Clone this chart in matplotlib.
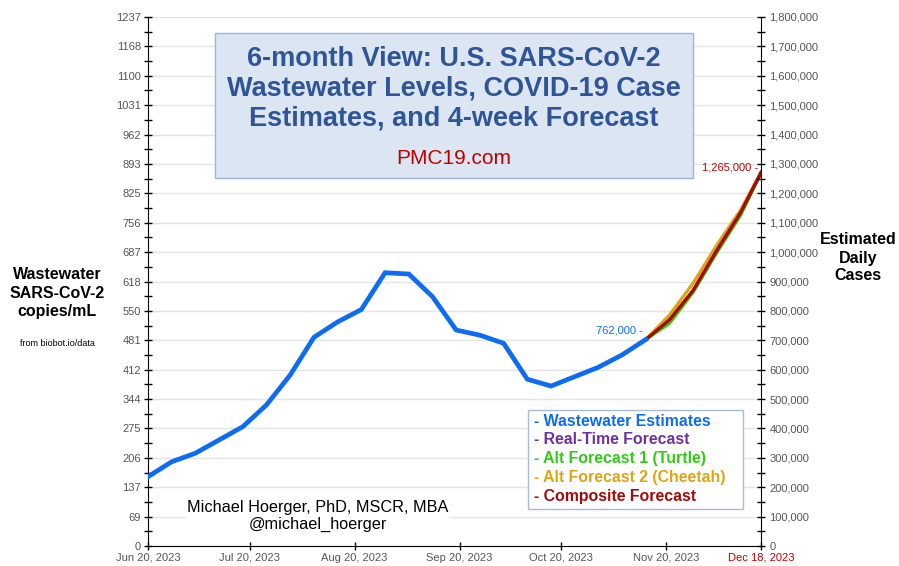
import matplotlib
matplotlib.use('Agg')
import matplotlib.pyplot as plt
import matplotlib.dates as mdates
import matplotlib.ticker as mticker
from matplotlib.patches import Rectangle
import numpy as np
import datetime

plt.rcParams['font.family'] = ['Liberation Sans', 'DejaVu Sans']

# wastewater, weekly readings (copies/mL)
ww_dates = ['2023-06-20', '2023-06-27', '2023-07-04', '2023-07-11', '2023-07-18',
            '2023-07-25', '2023-08-01', '2023-08-08', '2023-08-15', '2023-08-22',
            '2023-08-29', '2023-09-05', '2023-09-12', '2023-09-19', '2023-09-26',
            '2023-10-03', '2023-10-10', '2023-10-17', '2023-10-24', '2023-10-31',
            '2023-11-07', '2023-11-14']
ww_values = [162, 197, 217, 248, 279, 330, 400, 488, 524, 553, 639, 636,
             583, 505, 493, 474, 390, 374, 396, 418, 447, 483]

# 4-week forecasts
fc_dates = ['2023-11-14', '2023-11-21', '2023-11-28', '2023-12-05', '2023-12-12', '2023-12-18']
fc_realtime = [483, 528, 597, 690, 778, 873]
fc_turtle = [483, 521, 594, 687, 774, 873]
fc_cheetah = [483, 540, 615, 704, 786, 873]
fc_composite = [483, 529, 598, 692, 780, 873]

left_max = 1237
right_max = 1800000
xtick_dates = ['2023-06-20', '2023-07-20', '2023-08-20', '2023-09-20', '2023-10-20', '2023-11-20']
xtick_labels = ['Jun 20, 2023', 'Jul 20, 2023', 'Aug 20, 2023', 'Sep 20, 2023',
                'Oct 20, 2023', 'Nov 20, 2023']
end_date = '2023-12-18'

C_BLUE = '#0d6cf2'
C_PURPLE = '#7030a0'
C_GREEN = '#2ecc12'
C_GOLD = '#dba514'
C_RED = '#a50a0a'
C_TICK = '#555555'


def d(s):
    return datetime.datetime.strptime(s, '%Y-%m-%d')


fig = plt.figure(figsize=(8.99, 5.66), dpi=100)
ax = fig.add_axes([148 / 899, 20 / 566, 613 / 899, 529 / 566])

wx = [d(s) for s in ww_dates]
fx = [d(s) for s in fc_dates]

ax.plot(fx, fc_realtime, color=C_PURPLE, lw=2.4, zorder=3)
ax.plot(fx, fc_turtle, color=C_GREEN, lw=2.4, zorder=3)
ax.plot(fx, fc_cheetah, color=C_GOLD, lw=2.4, zorder=3)
ax.plot(fx, fc_composite, color=C_RED, lw=2.4, zorder=4)
ax.plot(wx, ww_values, color=C_BLUE, lw=3.4, solid_joinstyle='miter', zorder=5)

ax.set_xlim(d('2023-06-20'), d(end_date))
ax.set_ylim(0, left_max)

# left axis ticks
lt = np.arange(19) * left_max / 18.0
ax.set_yticks(lt)
ax.set_yticklabels(['%d' % round(v) for v in lt])
ax.set_yticks(np.arange(18) * left_max / 18.0 + left_max / 36.0, minor=True)
ax.yaxis.grid(True, color='#e4e4e4', lw=1)
ax.set_axisbelow(True)

xt = [d(s) for s in xtick_dates] + [d(end_date)]
ax.set_xticks(xt)
ax.set_xticklabels(xtick_labels + ['Dec 18, 2023'])
ax.tick_params(axis='both', which='both', direction='inout', length=6, width=1,
               labelsize=8, labelcolor=C_TICK)
ax.tick_params(axis='x', pad=2)
ax.tick_params(axis='y', pad=2)
lab = ax.get_xticklabels()[-1]
lab.set_color('#c00000')
ax.get_xticklines()[-2].set_color('#c00000')
for sp in ['top', 'right']:
    ax.spines[sp].set_visible(False)

# right axis
ax2 = ax.twinx()
ax2.set_ylim(0, right_max)
ax2.set_yticks(np.arange(0, right_max + 1, 100000))
ax2.set_yticks(np.arange(50000, right_max, 100000), minor=True)
ax2.yaxis.set_major_formatter(mticker.FuncFormatter(lambda v, p: '{:,}'.format(int(v))))
ax2.tick_params(axis='y', which='both', direction='inout', length=6, width=1,
                labelsize=8, labelcolor=C_TICK, pad=3)
for sp in ['top', 'left', 'bottom']:
    ax2.spines[sp].set_visible(False)

# value labels
ax.annotate('762,000 -', (fx[0], fc_composite[0]), xytext=(-2, 3), textcoords='offset points',
            ha='right', va='bottom', color=C_BLUE, fontsize=8, zorder=6)
ax.annotate('1,265,000 -', (fx[-1], fc_composite[-1]), xytext=(-2, 0), textcoords='offset points',
            ha='right', va='bottom', color='#c00000', fontsize=8, zorder=6)

# title box
fig.patches.append(Rectangle((215 / 899, 1 - 178 / 566), 478 / 899, 145 / 566,
                             transform=fig.transFigure, facecolor='#dce6f2',
                             edgecolor='#9db3d9', lw=1, zorder=2))
fig.text(454 / 899, 1 - 89 / 566,
         '6-month View: U.S. SARS-CoV-2\nWastewater Levels, COVID-19 Case\nEstimates, and 4-week Forecast',
         ha='center', va='center', fontsize=19.5, fontweight='bold', color='#2f5597',
         linespacing=1.2, zorder=3)
fig.text(454 / 899, 1 - 158 / 566, 'PMC19.com', ha='center', va='center',
         fontsize=15, color='#c00000', zorder=3)

# axis titles
fig.text(57 / 899, 1 - 293 / 566, 'Wastewater\nSARS-CoV-2\ncopies/mL', ha='center', va='center',
         fontsize=11.5, fontweight='bold', linespacing=1.3)
fig.text(57 / 899, 1 - 343 / 566, 'from biobot.io/data', ha='center', va='center', fontsize=6.5)
fig.text(858 / 899, 1 - 258 / 566, 'Estimated\nDaily\nCases', ha='center', va='center',
         fontsize=11.5, fontweight='bold', linespacing=1.25)

# credit
fig.text(318 / 899, 1 - 516 / 566, 'Michael Hoerger, PhD, MSCR, MBA\n@michael_hoerger',
         ha='center', va='center', fontsize=11.7, linespacing=1.2,
         bbox=dict(facecolor='white', edgecolor='none', pad=1))

# legend box
fig.patches.append(Rectangle((528 / 899, 1 - 509 / 566), 215 / 899, 99 / 566,
                             transform=fig.transFigure, facecolor='white',
                             edgecolor='#a9bcd6', lw=1, zorder=2))
leg_items = [('- Wastewater Estimates', C_BLUE), ('- Real-Time Forecast', C_PURPLE),
             ('- Alt Forecast 1 (Turtle)', C_GREEN), ('- Alt Forecast 2 (Cheetah)', C_GOLD),
             ('- Composite Forecast', C_RED)]
for i, (t, c) in enumerate(leg_items):
    fig.text(534 / 899, 1 - (421 + i * 18.8) / 566, t, ha='left', va='center',
             fontsize=11.4, fontweight='bold', color=c, zorder=3)

fig.savefig('out.png', dpi=100)
